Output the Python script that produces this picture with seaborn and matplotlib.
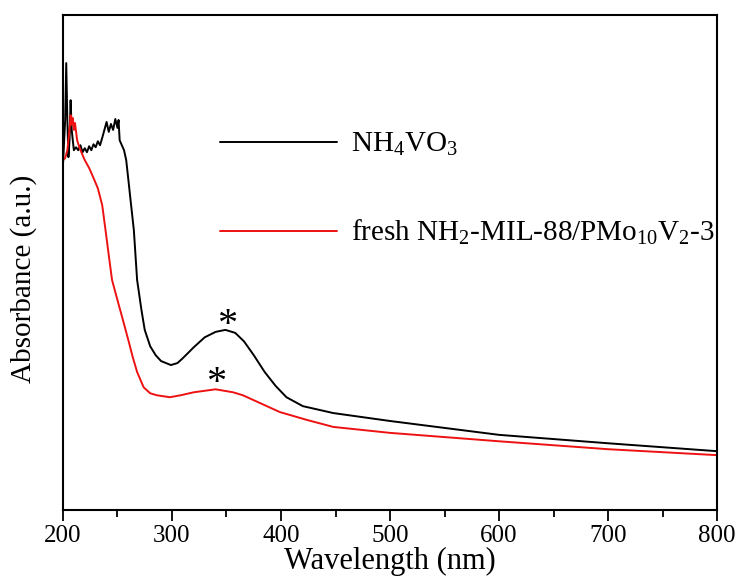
import numpy as np
import pandas as pd
import matplotlib
matplotlib.use("Agg")
import matplotlib.pyplot as plt
import seaborn as sns
from matplotlib.ticker import MultipleLocator

# ---- data ----
wl_nh4vo3 = [200, 202, 203, 204, 205, 206, 207, 208, 209, 210, 212, 214, 216, 218, 220, 222, 224, 226,
             228, 230, 232, 234, 236, 238, 240, 242, 244, 246, 248, 250, 251, 252, 254, 256, 258, 260,
             262, 265, 268, 272, 275, 280, 285, 290, 299, 305, 310, 320, 330, 340, 349, 358, 366, 375,
             385, 395, 405, 420, 448, 500, 550, 600, 700, 800]
abs_nh4vo3 = [0.697, 0.788, 0.903, 0.788, 0.713, 0.747, 0.828, 0.768, 0.747, 0.727, 0.733, 0.727, 0.737,
              0.723, 0.731, 0.723, 0.735, 0.727, 0.739, 0.733, 0.745, 0.737, 0.752, 0.768, 0.784, 0.764,
              0.780, 0.768, 0.790, 0.772, 0.788, 0.747, 0.737, 0.727, 0.707, 0.667, 0.626, 0.566, 0.465,
              0.404, 0.364, 0.331, 0.313, 0.301, 0.293, 0.297, 0.307, 0.329, 0.349, 0.360, 0.364, 0.358,
              0.341, 0.313, 0.279, 0.251, 0.228, 0.210, 0.196, 0.180, 0.166, 0.152, 0.135, 0.119]

wl_fresh = [200, 202, 204, 206, 207, 208, 209, 210, 211, 213, 215, 218, 220, 224, 228, 232, 236, 239,
            242, 245, 250, 255, 260, 264, 268, 274, 280, 286, 298, 308, 320, 340, 356, 365, 375, 387,
            399, 424, 448, 500, 600, 700, 800]
abs_fresh = [0.707, 0.711, 0.727, 0.768, 0.798, 0.778, 0.792, 0.768, 0.782, 0.747, 0.733, 0.717, 0.707,
             0.691, 0.671, 0.650, 0.616, 0.566, 0.515, 0.465, 0.424, 0.384, 0.343, 0.309, 0.279, 0.248,
             0.236, 0.232, 0.228, 0.232, 0.238, 0.244, 0.238, 0.232, 0.222, 0.210, 0.198, 0.182, 0.168,
             0.156, 0.139, 0.123, 0.111]

label_nh4vo3 = "NH$_4$VO$_3$"
label_fresh = "fresh NH$_2$-MIL-88/PMo$_{10}$V$_2$-3"
x_ticks = [200, 300, 400, 500, 600, 700, 800]

df = pd.concat([
    pd.DataFrame({"Wavelength": wl_nh4vo3, "Absorbance": abs_nh4vo3, "Sample": label_nh4vo3}),
    pd.DataFrame({"Wavelength": wl_fresh, "Absorbance": abs_fresh, "Sample": label_fresh}),
], ignore_index=True)

sns.set_theme(style="white")
plt.rcParams["font.family"] = ["Liberation Serif", "DejaVu Serif"]
plt.rcParams["mathtext.fontset"] = "custom"
plt.rcParams["mathtext.rm"] = "Liberation Serif"
plt.rcParams["mathtext.it"] = "Liberation Serif:italic"
plt.rcParams["mathtext.bf"] = "Liberation Serif:bold"
plt.rcParams["text.color"] = "black"
plt.rcParams["axes.labelcolor"] = "black"
plt.rcParams["xtick.color"] = "black"

fig = plt.figure(figsize=(7.4, 5.79), dpi=100)
ax = fig.add_axes([0.0851, 0.119, 0.969 - 0.0851, 0.974 - 0.119])

sns.lineplot(data=df, x="Wavelength", y="Absorbance", hue="Sample",
             palette={label_nh4vo3: "black", label_fresh: "#ee1111"},
             estimator=None, sort=False, linewidth=1.4, ax=ax)

ax.set_xlim(200, 800)
ax.set_ylim(0, 1)
ax.set_xticks(x_ticks)
ax.xaxis.set_minor_locator(MultipleLocator(50))
ax.set_yticks([])
ax.tick_params(axis="x", which="major", direction="out", length=8, width=1.3,
               labelsize=18, pad=3, colors="black", bottom=True)
ax.tick_params(axis="x", which="minor", direction="out", length=5, width=1.3, bottom=True)
for s in ax.spines.values():
    s.set_linewidth(1.5)
    s.set_color("black")

ax.set_xlabel("Wavelength (nm)", fontsize=22, labelpad=0)
ax.set_ylabel("Absorbance (a.u.)", fontsize=21)
ax.yaxis.set_label_coords(-0.040, 0.467)

ax.text(351, 0.372, "*", fontsize=29, ha="center", va="center")
ax.text(340, 0.255, "*", fontsize=29, ha="center", va="center")

leg = ax.legend(loc="upper left", bbox_to_anchor=(0.24, 0.766), frameon=False,
                fontsize=21, handlelength=4.0, handletextpad=0.5, labelspacing=2.05,
                borderpad=0, borderaxespad=0)
for line in leg.get_lines():
    line.set_linewidth(1.4)

fig.savefig("out.png", dpi=100)
